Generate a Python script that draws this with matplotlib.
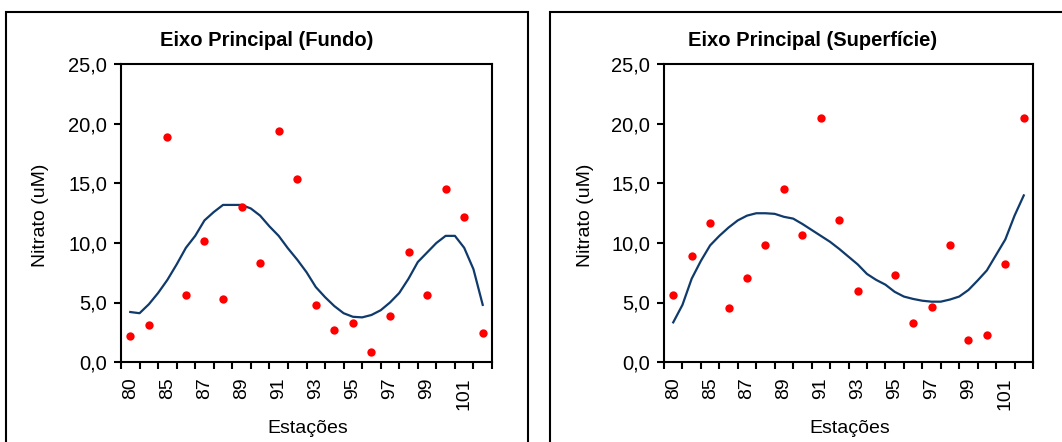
import numpy as np
import matplotlib
matplotlib.use("Agg")
import matplotlib.pyplot as plt
from matplotlib.patches import Rectangle

plt.rcParams['font.family'] = ['Liberation Sans', 'DejaVu Sans']

# stations along the main axis (only every other one is labelled)
estacoes = ['80', '82', '85', '86', '87', '88', '89', '90', '91', '92',
            '93', '94', '95', '96', '97', '98', '99', '100', '101', '102']

# measured nitrate, bottom and surface (uM)
fundo = [2.2, 3.1, 18.9, 5.65, 10.2, 5.3, 13.0, 8.35, 19.4, 15.4,
         4.8, 2.65, 3.3, 0.8, 3.9, 9.25, 5.65, 14.55, 12.2, 2.45]
superficie = [5.65, 8.9, 11.7, 4.5, 7.1, 9.85, 14.55, 10.7, 20.5, 11.9,
              6.0, np.nan, 7.3, 3.3, 4.65, 9.85, 1.85, 2.3, 8.2, 20.5]

# smoothed trend, sampled every half station
tend_fundo = [4.2, 4.1, 4.85, 5.8, 6.9, 8.2, 9.6, 10.6, 11.9, 12.6,
              13.2, 13.2, 13.2, 12.9, 12.3, 11.4, 10.6, 9.55, 8.6, 7.55,
              6.3, 5.45, 4.7, 4.1, 3.8, 3.75, 3.95, 4.35, 5.0, 5.8,
              7.0, 8.4, 9.2, 10.0, 10.6, 10.6, 9.6, 7.8, 4.8]
tend_superficie = [3.33, 4.8, 7.0, 8.5, 9.8, 10.6, 11.3, 11.9, 12.3, 12.5,
                   12.5, 12.45, 12.2, 12.05, 11.6, 11.1, 10.6, 10.1, 9.5, 8.85,
                   8.2, 7.4, 6.9, 6.5, 5.9, 5.5, 5.3, 5.15, 5.07, 5.07,
                   5.25, 5.5, 6.05, 6.85, 7.7, 9.0, 10.3, 12.3, 14.0]

W, H = 1062, 442
fig = plt.figure(figsize=(W / 100, H / 100), dpi=100)

linha = '#0f3a6b'


def px(x, y):
    return x / W, 1 - y / H


def painel(ax, pontos, tend):
    n = len(pontos)
    x = np.arange(n)
    xt = np.arange(len(tend)) * 0.5
    ax.plot(xt, tend, color=linha, lw=1.6, zorder=2)
    ax.plot(x, pontos, 'o', color='#ff0000', ms=6, mec='none', zorder=3)
    ax.set_xlim(-0.5, n - 0.5)
    ax.set_ylim(0, 25)
    ax.set_yticks(np.arange(0, 25.1, 5))
    ax.set_yticklabels([f'{v:.1f}'.replace('.', ',') for v in np.arange(0, 25.1, 5)],
                       fontsize=14.5)
    ax.set_xticks(np.arange(-0.5, n, 1.0))
    ax.set_xticklabels([])
    ax.set_xticks(x[::2], minor=True)
    ax.set_xticklabels(estacoes[::2], minor=True, rotation=90, fontsize=14)
    ax.tick_params(axis='x', which='major', direction='out', length=5, width=1.5)
    ax.tick_params(axis='x', which='minor', length=0, pad=11)
    ax.tick_params(axis='y', direction='out', length=5, width=1.5, pad=5)
    for s in ax.spines.values():
        s.set_linewidth(1.5)


# panel frames
fig.patches.append(Rectangle(px(6, 470), 522 / W, 458 / H, transform=fig.transFigure,
                             fill=False, lw=1.5, ec='black'))
fig.patches.append(Rectangle(px(550, 470), 600 / W, 458 / H, transform=fig.transFigure,
                             fill=False, lw=1.5, ec='black'))

ax1 = fig.add_axes([121 / W, 1 - 362 / H, 371 / W, 297.5 / H])
painel(ax1, fundo, tend_fundo)
ax2 = fig.add_axes([664 / W, 1 - 362 / H, 369 / W, 297.5 / H])
painel(ax2, superficie, tend_superficie)

for cx, titulo in [(266.5, 'Eixo Principal (Fundo)'), (812.8, 'Eixo Principal (Superfície)')]:
    fig.text(*px(cx, 40), titulo, ha='center', va='center', fontsize=14.5, fontweight='bold')
for cx in (40.7, 585.3):
    fig.text(*px(cx, 215.7), 'Nitrato (uM)', ha='center', va='center', rotation=90, fontsize=14)
for cx in (308, 849.7):
    fig.text(*px(cx, 428.5), 'Estações', ha='center', va='center', fontsize=14)

fig.savefig('out.png', dpi=100)
